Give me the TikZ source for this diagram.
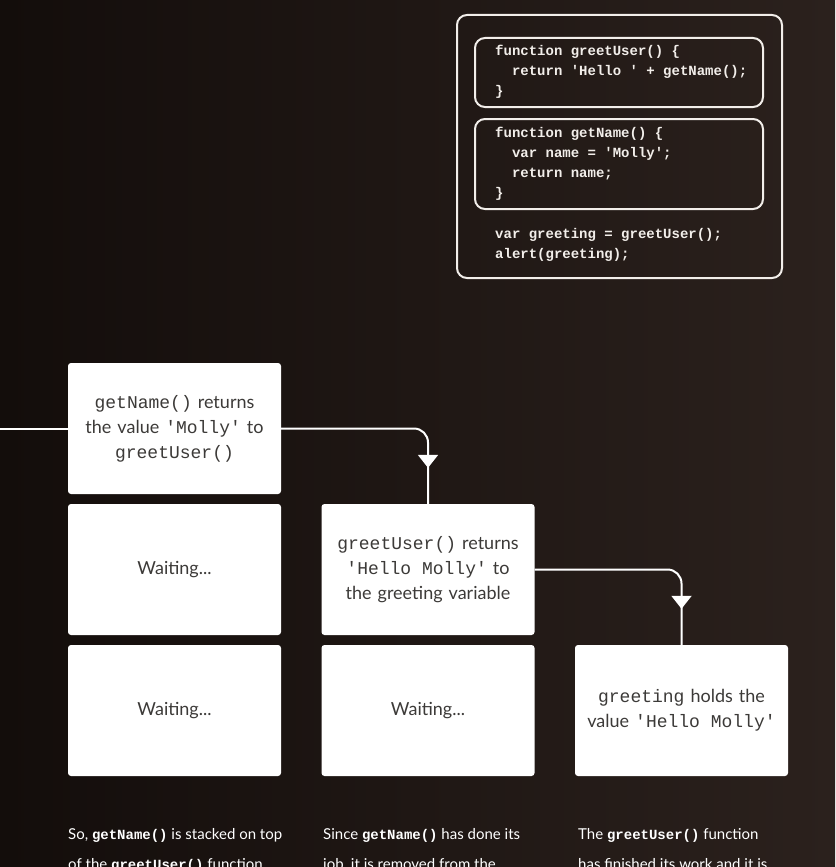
\documentclass[tikz,border=0pt]{standalone}
\usepackage{fontspec}
\setmainfont{Lato}
\setmonofont{Liberation Mono}
\usepackage{xcolor}
\usetikzlibrary{calc}
\usetikzlibrary{arrows.meta,decorations.markings}

\definecolor{bgleft}{HTML}{130D0B}
\definecolor{bgright}{HTML}{2B211D}
\definecolor{boxtext}{HTML}{3C3A38}
\definecolor{codeline}{HTML}{F2EEEA}

\newcommand{\capcode}[1]{{\ttfamily\bfseries\fontsize{14}{30}\selectfont #1}}

\tikzset{
  stackbox/.style={fill=white, rounded corners=3pt, minimum width=213pt, minimum height=131pt,
    inner sep=0pt, text width=205pt, align=center, text=boxtext, font=\fontsize{18}{25}\selectfont},
  codebox/.style={draw=codeline, line width=2pt, rounded corners=10pt},
  codetext/.style={anchor=west, align=left, inner sep=0pt, text=codeline,
    font=\ttfamily\bfseries\fontsize{14}{20}\selectfont},
  flow/.style={draw=white, line width=2pt, rounded corners=14pt, postaction={decorate},
    decoration={markings, mark=at position -36pt with {\arrow{Triangle[width=20pt,length=13pt]}}}},
  caption/.style={anchor=north west, align=left, inner sep=0pt, text=white,
    font=\fontsize{15}{30}\selectfont},
}

\begin{document}
\begin{tikzpicture}[x=1pt,y=-1pt]
        \useasboundingbox (0,0) rectangle (835,867);
        \clip (0,0) rectangle (835,867);
        %BACKGROUND
        \shade[left color=bgleft, right color=bgright] (0,0) rectangle (835,867);
        %CODE
        \draw[codebox] (457,15) rectangle (782,278);
        \draw[codebox] (475,38) rectangle (763,107);
        \draw[codebox] (475,119) rectangle (763,209);
        \node[codetext] (codeUser) at (495,72) {function greetUser() \{\\
          \phantom{xx}return 'Hello ' + getName();\\
          \}};
        \node[codetext] (codeName) at (495,163.5) {function getName() \{\\
          \phantom{xx}var name = 'Molly';\\
          \phantom{xx}return name;\\
          \}};
        \node[codetext] (codeCall) at (495,245) {var greeting = greetUser();\\
          alert(greeting);};
        %STACK
        \node[stackbox] (nameRet) at (174.5,428.5) {{\ttfamily getName()} returns\\the value {\ttfamily 'Molly'} to\\{\ttfamily greetUser()}};
        \node[stackbox] (waitA) at (174.5,569.5) {Waiting...};
        \node[stackbox] (waitB) at (174.5,710.5) {Waiting...};
        \node[stackbox] (userRet) at (428,569.5) {{\ttfamily greetUser()} returns\\{\ttfamily 'Hello\phantom{x}Molly'} to\\the greeting variable};
        \node[stackbox] (waitC) at (428,710.5) {Waiting...};
        \node[stackbox] (greetVal) at (681.5,710.5) {{\ttfamily greeting} holds the\\value {\ttfamily 'Hello\phantom{x}Molly'}};
        %ARROWS
        \coordinate (callIn) at (0,428.5);
        \draw[draw=white, line width=2pt] (callIn) -- (nameRet.west);
        \draw[flow] (nameRet.east) -| (userRet.north);
        \draw[flow] (userRet.east) -| (greetVal.north);
        %CAPTIONS
        \node[caption] (capA) at (68,828) {So, \capcode{getName()} is stacked on top\\of the \capcode{greetUser()} function.};
        \node[caption] (capB) at (323,828) {Since \capcode{getName()} has done its\\job, it is removed from the};
        \node[caption] (capC) at (578,828) {The \capcode{greetUser()} function\\has finished its work and it is};
    \end{tikzpicture}
\end{document}
